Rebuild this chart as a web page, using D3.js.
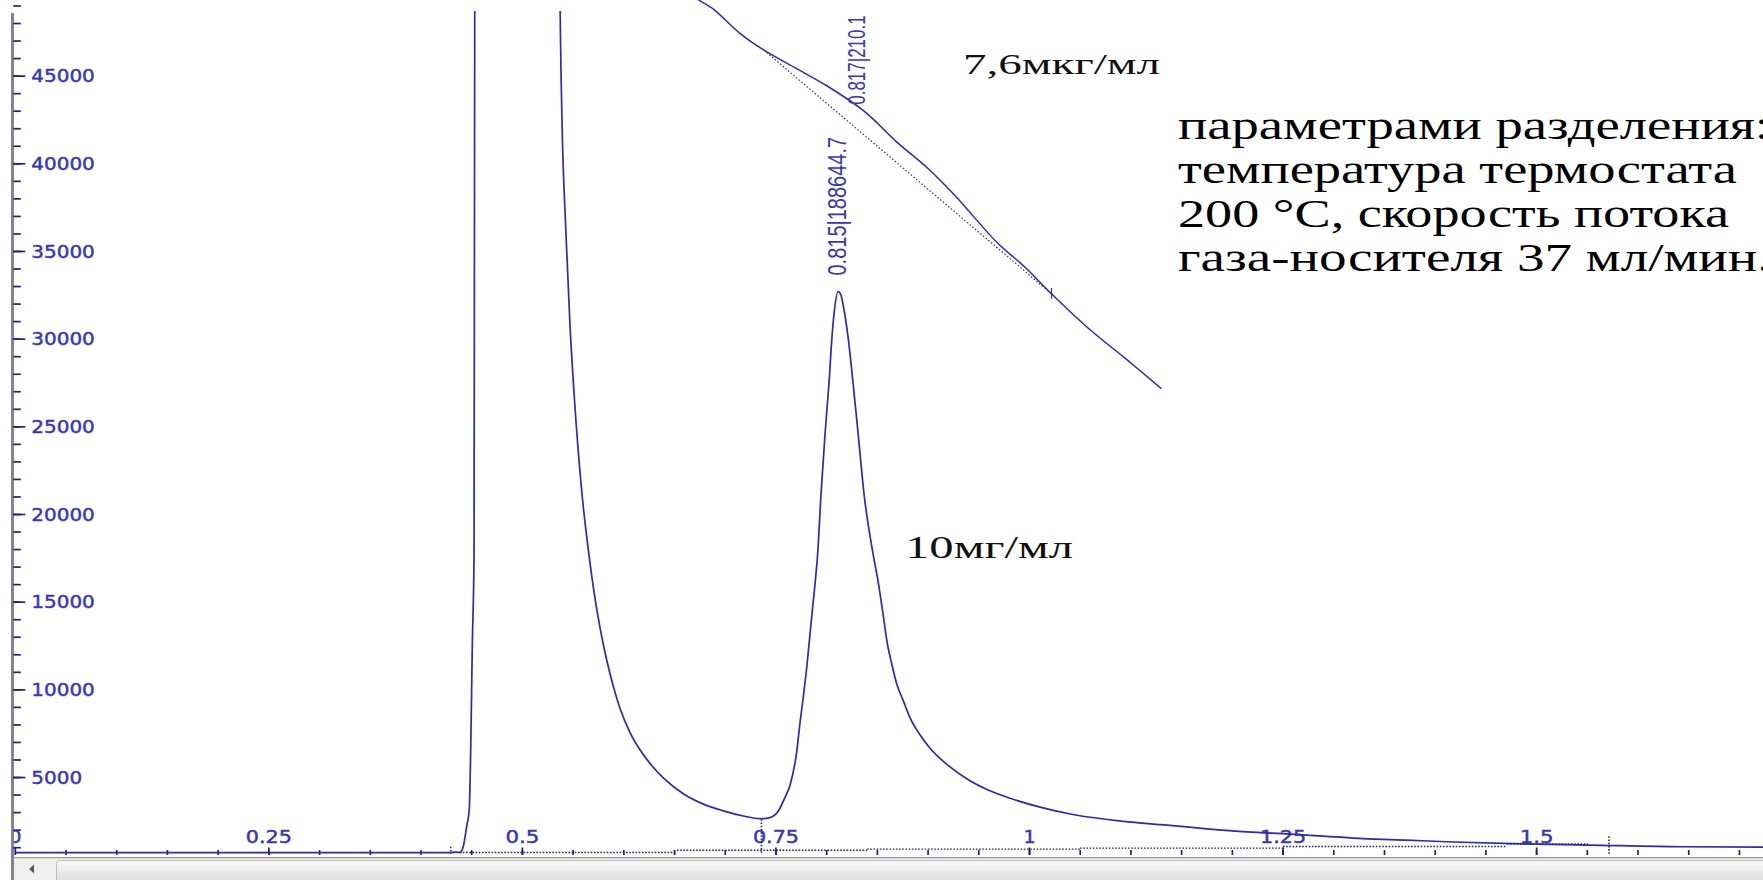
<!DOCTYPE html>
<html><head><meta charset="utf-8">
<script src="https://cdn.jsdelivr.net/npm/d3@7"></script>
<style>html,body{margin:0;padding:0;background:#fff;overflow:hidden}</style>
</head><body>
<svg id="c" width="1763" height="880"></svg>
<script>
// ---------- data (time, min ; signal, a.u.) ----------
const chromatogram = [
 [0,693],[0.4262,693],[0.4291,680],[0.4340,720],[0.4390,700],[0.4422,1040],[0.4456,2198],[0.4481,3165],
 [0.4495,6464],[0.4511,12543],[0.4528,17637],[0.4535,49418],[0.4540,53500],[0.4950,80000],[0.5370,53500],
 [0.5376,49418],[0.5395,42528],[0.5430,36567],[0.5474,30777],[0.5514,26899],[0.5593,21110],[0.5662,17637],
 [0.5704,15831],[0.5770,13521],[0.5836,11673],[0.5901,10178],[0.5967,8924],[0.6066,7538],[0.6164,6558],
 [0.6280,5653],[0.6394,4946],[0.6591,4045],[0.6789,3454],[0.6986,3067],[0.7183,2777],[0.7348,2627],
 [0.7380,2627],[0.7446,2685],[0.7528,3067],[0.7594,3842],[0.7643,4514],[0.7710,6466],[0.7742,8087],
 [0.7776,9650],[0.7811,11387],[0.7840,13124],[0.7870,14861],[0.7895,16308],[0.7915,17638],[0.7949,21110],
 [0.7989,24580],[0.8028,27475],[0.8057,30084],[0.8082,31647],[0.8117,32689],[0.8147,32457],[0.8176,31647],
 [0.8216,30084],[0.8265,27475],[0.8315,24580],[0.8374,21110],[0.8465,17638],[0.8514,16091],[0.8564,14164],
 [0.8597,12815],[0.8646,11460],[0.8696,10302],[0.8761,9342],[0.8827,8375],[0.8925,7408],[0.9024,6638],
 [0.9221,5579],[0.9418,4791],[0.9586,4287],[0.9813,3788],[1.0109,3285],[1.0434,2862],[1.0927,2470],
 [1.1361,2256],[1.1755,2048],[1.2150,1874],[1.2574,1747],[1.2938,1619],[1.3293,1486],[1.3727,1399],
 [1.4181,1295],[1.4773,1197],[1.5512,1122],[1.6439,1023],[1.7237,1006]
];
// pasted enlarged trace (7,6 мкг/мл), drawn in the same axes
const insetTrace = [
 [0.6578,50634],[0.6697,49534],[0.6894,48764],[0.7150,47410],[0.7387,46449],[0.7713,45384],[0.8006,44423],
 [0.8374,42975],[0.8691,41239],[0.9007,39693],[0.9272,38148],[0.9690,35450],[0.9956,34096],[1.0222,32556],
 [1.0579,30622],[1.0947,28886],[1.1305,27149]
];
const insetBaseline = [[0.7387,46449],[1.0222,32556]];
// integration baselines: [tStart, tEnd, level]
const integrationBaselines = [
 [0.4291,0.6529,693],[0.6529,0.8403,820],[0.8403,1.0503,890],[1.0503,1.2504,948],[1.2504,1.4713,1040],[1.4713,1.5512,1179]
];
// peak boundary markers: [t, bottom, top]
const peakMarkers = [[0.4298,750,1040],[0.7362,676,2586],[1.5719,618,1620]];
const peakLabels = ["0.815|188644.7","0.817|210.1"];
const peakLabelTimes = [0.8110,0.8295];
const peakLabelValues = [32689,43225];

const yTickValues = [5000,10000,15000,20000,25000,30000,35000,40000,45000];
const yTickLabels = ["5000","10000","15000","20000","25000","30000","35000","40000","45000"];
const xTickValues = [0,0.25,0.5,0.75,1,1.25,1.5];
const xTickLabels = ["0","0.25","0.5","0.75","1","1.25","1.5"];
const concLabels = ["7,6мкг/мл","10мг/мл"];
const conditionLines = ["параметрами разделения:","температура термостата","200 °C, скорость потока","газа-носителя 37 мл/мин."];

// ---------- drawing ----------
const W=1763,H=880;
const navy="#1f1f7e", trace="#2b2bab", lbl="#3636b6";
const svg=d3.select("#c");
const x=d3.scaleLinear().domain([0,1.7237]).range([14.8,1763]);
const y=d3.scaleLinear().domain([0,50000]).range([864.7,-12.05]);

const defs=svg.append("defs");
const gr=defs.append("linearGradient").attr("id","thumb").attr("x1",0).attr("y1",0).attr("x2",0).attr("y2",1);
gr.append("stop").attr("offset","0%").attr("stop-color","#fafafa");
gr.append("stop").attr("offset","45%").attr("stop-color","#e6e6e6");
gr.append("stop").attr("offset","100%").attr("stop-color","#d4d4d4");
defs.append("clipPath").attr("id","plot").append("rect").attr("x",13.5).attr("y",11).attr("width",W).attr("height",H);
defs.append("clipPath").attr("id","xlab").append("rect").attr("x",13.8).attr("y",-40).attr("width",W).attr("height",50);

// scrollbar
svg.append("rect").attr("x",13).attr("y",858).attr("width",W).attr("height",22).attr("fill","#efefef");
svg.append("line").attr("x1",13).attr("x2",W).attr("y1",857.7).attr("y2",857.7).attr("stroke","#9c9c9c").attr("stroke-width",1.2);
svg.append("rect").attr("x",56.5).attr("y",860.5).attr("width",W).attr("height",30).attr("rx",3)
  .attr("fill","url(#thumb)").attr("stroke","#bdbdbd").attr("stroke-width",1);
svg.append("path").attr("d","M29,869 L34,864.5 L34,873.5 Z").attr("fill","#5a5a5a");

// y axis
svg.append("line").attr("x1",12.5).attr("x2",12.5).attr("y1",13).attr("y2",H).attr("stroke","#848490").attr("stroke-width",3);
const gYm=svg.append("g").attr("transform","translate(13.3,0)")
  .call(d3.axisRight(y).tickValues(d3.range(1000,50000,1000)).tickSize(7.5).tickFormat(""));
const gY=svg.append("g").attr("transform","translate(13.3,0)")
  .call(d3.axisRight(y).tickValues(yTickValues).tickSize(12).tickPadding(6).tickFormat((d,i)=>yTickLabels[i]));
[gYm,gY].forEach(g=>{g.select(".domain").remove();g.selectAll("line").attr("stroke",navy).attr("stroke-width",1.7);});
gY.selectAll("text").attr("fill",lbl).attr("stroke",lbl).attr("stroke-width",0.45)
  .attr("font-family","DejaVu Sans, Verdana, sans-serif").attr("font-size",17.5)
  .attr("dy","0.36em").attr("textLength",function(){return this.textContent.length*12.7;}).attr("lengthAdjust","spacingAndGlyphs");

// x axis (ticks only)
const gXm=svg.append("g").attr("transform","translate(0,855)")
  .call(d3.axisTop(x).tickValues(d3.range(1,35).map(i=>i*0.05)).tickSize(5).tickFormat(""));
const gX=svg.append("g").attr("transform","translate(0,855)").attr("clip-path","url(#xlab)")
  .call(d3.axisTop(x).tickValues(xTickValues).tickSize(7.5).tickPadding(4.2).tickFormat((d,i)=>xTickLabels[i]));
[gXm,gX].forEach(g=>{g.select(".domain").remove();g.selectAll("line").attr("stroke",navy).attr("stroke-width",1.7);});
gX.selectAll("text").attr("fill",lbl).attr("stroke",lbl).attr("stroke-width",0.45)
  .attr("font-family","DejaVu Sans, Verdana, sans-serif").attr("font-size",17.5)
  .attr("textLength",function(){const s=this.textContent;const n=s.replace(/[^0-9]/g,"").length;return n*12.2+(s.length-n)*9.5;})
  .attr("lengthAdjust","spacingAndGlyphs");

// integration baselines & markers (dotted)
svg.append("g").selectAll("line").data(integrationBaselines).join("line")
  .attr("x1",d=>x(d[0])).attr("x2",d=>x(d[1])).attr("y1",d=>y(d[2])).attr("y2",d=>y(d[2]))
  .attr("stroke",navy).attr("stroke-width",1.4).attr("stroke-dasharray","1.6,1.6");
svg.append("g").selectAll("line").data(peakMarkers).join("line")
  .attr("x1",d=>x(d[0])).attr("x2",d=>x(d[0])).attr("y1",d=>y(d[1])).attr("y2",d=>y(d[2]))
  .attr("stroke",navy).attr("stroke-width",1.6).attr("stroke-dasharray","1.6,1.6");

// main trace
svg.append("path").datum(chromatogram).attr("clip-path","url(#plot)")
  .attr("d",d3.line().curve(d3.curveMonotoneX).x(d=>x(d[0])).y(d=>y(d[1])))
  .attr("fill","none").attr("stroke",trace).attr("stroke-width",1.7).attr("stroke-linejoin","round");

// inset trace
svg.append("path").datum(insetBaseline).attr("d",d3.line().x(d=>x(d[0])).y(d=>y(d[1]))).attr("fill","none").attr("stroke",trace)
  .attr("stroke-width",1.2).attr("stroke-dasharray","1.5,2");
svg.append("path").datum(insetTrace).attr("d",d3.line().curve(d3.curveCatmullRom).x(d=>x(d[0])).y(d=>y(d[1])))
  .attr("fill","none").attr("stroke",trace).attr("stroke-width",1.5);
svg.append("line").attr("x1",x(insetBaseline[1][0])).attr("x2",x(insetBaseline[1][0]))
  .attr("y1",y(insetBaseline[1][1])-6).attr("y2",y(insetBaseline[1][1])+5).attr("stroke",trace).attr("stroke-width",1.2);

// peak labels (rotated)
const gaps=[16,2], sizes=[20,17], sx=[1.25,1.45];
peakLabels.forEach((t,i)=>{
  svg.append("text").text(t)
    .attr("transform",`translate(${x(peakLabelTimes[i])},${y(peakLabelValues[i])-gaps[i]}) scale(${sx[i]},1) rotate(-90)`)
    .attr("dy","0.35em").attr("font-family","Liberation Sans, Arial, sans-serif").attr("font-size",sizes[i]).attr("fill",lbl);
});

// concentration labels
const serif="Liberation Serif, Times New Roman, serif";
svg.append("text").text(concLabels[0]).attr("x",963).attr("y",74).attr("font-family",serif).attr("font-size",29)
  .attr("fill","#111").attr("textLength",197).attr("lengthAdjust","spacingAndGlyphs");
svg.append("text").text(concLabels[1]).attr("x",905).attr("y",558).attr("font-family",serif).attr("font-size",32)
  .attr("fill","#111").attr("textLength",168).attr("lengthAdjust","spacingAndGlyphs");

// conditions text
const widths=[592,559,551,593];
conditionLines.forEach((t,i)=>{
  svg.append("text").text(t).attr("x",1178).attr("y",139+i*44).attr("font-family",serif).attr("font-size",40)
    .attr("fill","#000").attr("textLength",widths[i]).attr("lengthAdjust","spacingAndGlyphs");
});
</script>
</body></html>
